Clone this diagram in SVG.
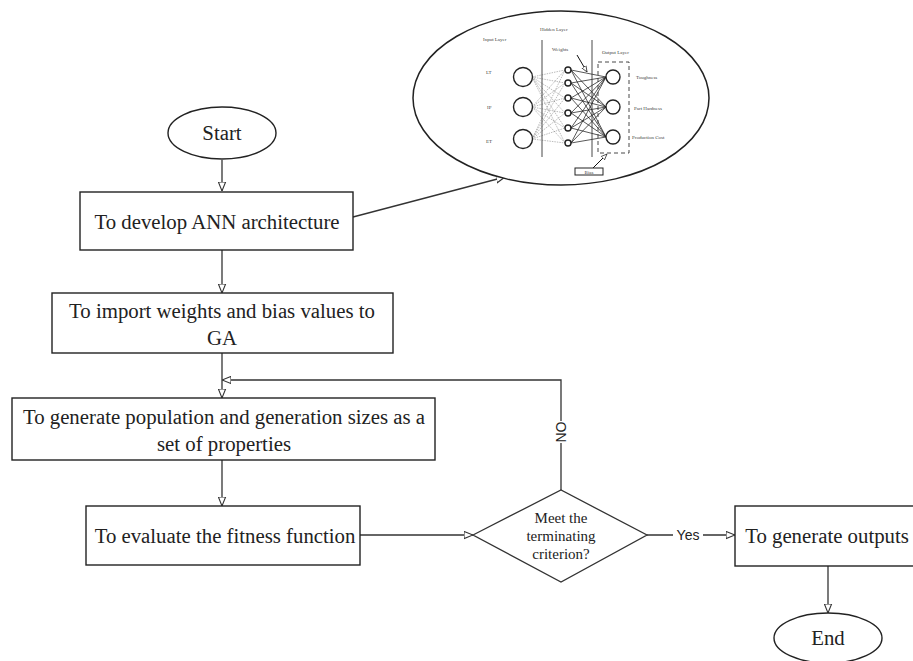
<svg xmlns="http://www.w3.org/2000/svg" width="913" height="661" viewBox="0 0 913 661">
<defs>
<marker id="ah" viewBox="0 0 10 10" refX="10" refY="5" markerWidth="9" markerHeight="9" markerUnits="userSpaceOnUse" orient="auto">
<path d="M0,1 L10,5 L0,9 Z" fill="#fff" stroke="#333" stroke-width="1.2"/>
</marker>
<marker id="ahs" viewBox="0 0 10 10" refX="10" refY="5" markerWidth="6" markerHeight="6" markerUnits="userSpaceOnUse" orient="auto">
<path d="M0,1 L10,5 L0,9 Z" fill="#fff" stroke="#222" stroke-width="1.2"/>
</marker>
</defs>
<style>
.box{fill:#fff;stroke:#222;stroke-width:1.4}
.t{font-family:"Liberation Serif","Times New Roman",serif;font-size:20.8px;fill:#222;text-anchor:middle}
.ts{font-family:"Liberation Serif","Times New Roman",serif;font-size:15px;fill:#222;text-anchor:middle}
.lab{font-family:"Liberation Sans",Arial,sans-serif;font-size:14px;fill:#222;text-anchor:middle}
.c{fill:none;stroke:#333;stroke-width:1.3}
.nn{font-family:"Liberation Serif","Times New Roman",serif;font-size:5px;fill:#444}
.nc{fill:#fff;stroke:#222;stroke-width:1.4}
.w{stroke:#777;stroke-width:0.5;stroke-dasharray:1.5 1}
.w2{stroke:#111;stroke-width:0.7}
</style>
<rect width="913" height="661" fill="#fff"/>

<g id="connectors">
<path class="c" d="M222,160 V191" marker-end="url(#ah)"/>
<path class="c" d="M353,217 L505,177" marker-end="url(#ah)"/>
<path class="c" d="M222,250 V293" marker-end="url(#ah)"/>
<path class="c" d="M222,353 V398" marker-end="url(#ah)"/>
<path class="c" d="M222,460 V506" marker-end="url(#ah)"/>
<path class="c" d="M360,535 H473" marker-end="url(#ah)"/>
<path class="c" d="M561,490 V380 H222" stroke="#555" marker-end="url(#ah)"/>
<path class="c" d="M647,535 H735" marker-end="url(#ah)"/>
<path class="c" d="M828,566 V613" marker-end="url(#ah)"/>
<rect x="553" y="421" width="16" height="22" fill="#fff"/>
<text class="lab" font-size="12" transform="translate(561,432) rotate(-90)" dy="4.5">NO</text>
<rect x="673" y="527" width="30" height="16" fill="#fff"/>
<text class="lab" x="688" y="540">Yes</text>
</g>

<g id="ann">
<ellipse cx="561" cy="98" rx="148" ry="87" fill="#fff" stroke="#222" stroke-width="1.5"/>
<g id="ann-lines">
<path class="w" d="M532,77 L565,70 M532,77 L565,83 M532,77 L565,98 M532,77 L565,113 M532,77 L565,128 M532,77 L565,143 M532,107 L565,70 M532,107 L565,83 M532,107 L565,98 M532,107 L565,113 M532,107 L565,128 M532,107 L565,143 M532,139 L565,70 M532,139 L565,83 M532,139 L565,98 M532,139 L565,113 M532,139 L565,128 M532,139 L565,143"/>
<path class="w2" d="M571,70 L606,77 M571,70 L606,107 M571,70 L606,137 M571,83 L606,77 M571,83 L606,107 M571,83 L606,137 M571,98 L606,77 M571,98 L606,107 M571,98 L606,137 M571,113 L606,77 M571,113 L606,107 M571,113 L606,137 M571,128 L606,77 M571,128 L606,107 M571,128 L606,137 M571,143 L606,77 M571,143 L606,107 M571,143 L606,137"/>
</g>
<path d="M542,40 V157 M592,40 V157" stroke="#333" stroke-width="0.9"/>
<rect x="598" y="62" width="31" height="91" fill="none" stroke="#333" stroke-width="0.9" stroke-dasharray="4 3"/>
<path d="M577,55 L587,72" stroke="#111" stroke-width="1" marker-end="url(#ahs)"/>
<path d="M593,168 L607,154" stroke="#111" stroke-width="1" marker-end="url(#ahs)"/>
<rect x="575" y="168" width="28" height="7" fill="#fff" stroke="#222" stroke-width="1"/>
<circle class="nc" cx="523" cy="77" r="9.5"/>
<circle class="nc" cx="523" cy="107" r="9.5"/>
<circle class="nc" cx="523" cy="139" r="9.5"/>
<circle class="nc" cx="568" cy="70" r="3" stroke-width="1"/>
<circle class="nc" cx="568" cy="83" r="3" stroke-width="1"/>
<circle class="nc" cx="568" cy="98" r="3" stroke-width="1"/>
<circle class="nc" cx="568" cy="113" r="3" stroke-width="1"/>
<circle class="nc" cx="568" cy="128" r="3" stroke-width="1"/>
<circle class="nc" cx="568" cy="143" r="3" stroke-width="1"/>
<circle class="nc" cx="613" cy="77" r="7"/>
<circle class="nc" cx="613" cy="107" r="7"/>
<circle class="nc" cx="613" cy="137" r="7"/>
<text class="nn" x="483" y="41">Input Layer</text>
<text class="nn" x="540" y="31">Hidden Layer</text>
<text class="nn" x="552" y="51">Weights</text>
<text class="nn" x="602" y="54">Output Layer</text>
<text class="nn" x="486" y="74">LT</text>
<text class="nn" x="487" y="109">IP</text>
<text class="nn" x="486" y="143">ET</text>
<text class="nn" x="636" y="79">Toughness</text>
<text class="nn" x="634" y="110">Part Hardness</text>
<text class="nn" x="632" y="139">Production Cost</text>
<text class="nn" x="589" y="173.5" font-size="3.5" text-anchor="middle">Bias</text>
</g>

<g id="start">
<ellipse cx="222" cy="133" rx="54" ry="26" fill="#fff" stroke="#222" stroke-width="1.4"/>
<text class="t" x="222" y="140">Start</text>
</g>

<g id="develop">
<rect class="box" x="80" y="192" width="273" height="58"/>
<text class="t" x="217" y="229">To develop ANN architecture</text>
</g>

<g id="import">
<rect class="box" x="52" y="293" width="341" height="60"/>
<text class="t" x="222" y="318">To import weights and bias values to</text>
<text class="t" x="222" y="345">GA</text>
</g>

<g id="generate">
<rect class="box" x="12" y="398" width="423" height="62"/>
<text class="t" x="224" y="424">To generate population and generation sizes as a</text>
<text class="t" x="224" y="451">set of properties</text>
</g>

<g id="evaluate">
<rect class="box" x="86" y="506" width="274" height="59"/>
<text class="t" x="225" y="543">To evaluate the fitness function</text>
</g>

<g id="decision">
<path d="M473,535 L561,490 L647,535 L561,582 Z" fill="#fff" stroke="#333" stroke-width="1.3"/>
<text class="ts" x="561" y="523">Meet the</text>
<text class="ts" x="561" y="541">terminating</text>
<text class="ts" x="561" y="559">criterion?</text>
</g>

<g id="outputs">
<rect class="box" x="735" y="506" width="190" height="60"/>
<text class="t" x="827" y="543">To generate outputs</text>
</g>

<g id="end">
<ellipse cx="828" cy="638" rx="54" ry="25" fill="#fff" stroke="#222" stroke-width="1.4"/>
<text class="t" x="828" y="645">End</text>
</g>
</svg>
